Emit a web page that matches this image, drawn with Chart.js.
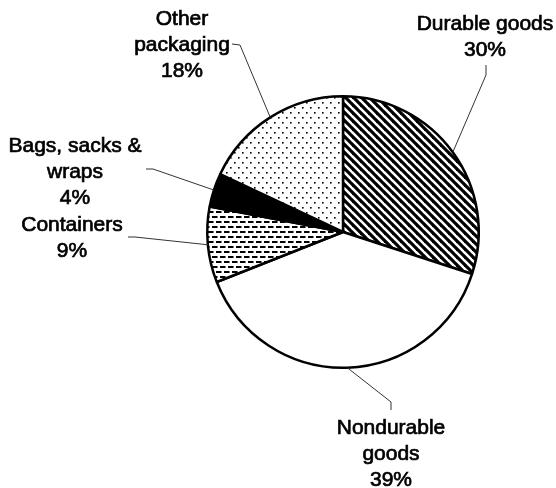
<!DOCTYPE html>
<html>
<head>
<meta charset="utf-8">
<script src="https://cdn.jsdelivr.net/npm/chart.js@4/dist/chart.umd.min.js"></script>
<style>
  html, body { margin: 0; padding: 0; background: #ffffff; }
  #wrap { width: 556px; height: 488px; }
</style>
</head>
<body>
<div id="wrap"><canvas id="c" width="556" height="488"></canvas></div>
<script>
// ---- data ----
const categories = ["Durable goods", "Nondurable goods", "Containers", "Bags, sacks & wraps", "Other packaging"];
const shares = [30, 39, 9, 4, 18];
const labelLines = [
  ["Durable goods", "30%"],
  ["Nondurable", "goods", "39%"],
  ["Containers", "9%"],
  ["Bags, sacks &", "wraps", "4%"],
  ["Other", "packaging", "18%"]
];

// ---- label layout (text anchor, first baseline, leader elbow and end) ----
const labelLayout = [
  { tx: 485, ty: 30,  elbow: [486, 75],  end: [486, 65] },
  { tx: 391, ty: 434, elbow: [391, 402], end: [391, 410] },
  { tx: 72,  ty: 231, elbow: [135, 237], end: [128, 237] },
  { tx: 75,  ty: 152, elbow: [153, 169], end: [146, 169] },
  { tx: 182, ty: 25,  elbow: [240, 45],  end: [232, 44] }
];
const LINE_H = 26;

// ---- patterns ----
function makeTile(w, h, draw) {
  const c = document.createElement('canvas');
  c.width = w; c.height = h;
  const g = c.getContext('2d');
  g.fillStyle = '#ffffff';
  g.fillRect(0, 0, w, h);
  draw(g, w, h);
  return document.getElementById('c').getContext('2d').createPattern(c, 'repeat');
}
const stripes = makeTile(8, 8, (g, w) => {
  g.strokeStyle = '#000';
  g.lineWidth = 3.2;
  for (let k = -1; k <= 1; k++) {
    g.beginPath();
    g.moveTo(k * w - w, -w);
    g.lineTo(k * w + 2 * w, 2 * w);
    g.stroke();
  }
});
const dashes = makeTile(8, 10, (g) => {
  g.fillStyle = '#000';
  g.fillRect(0, 1, 5.5, 2);
  g.fillRect(4, 6, 4, 2);
  g.fillRect(0, 6, 1.5, 2);
});
const dots = makeTile(8, 10, (g) => {
  g.fillStyle = '#000';
  g.fillRect(2, 2, 1.6, 1.6);
  g.fillRect(6, 7, 1.6, 1.6);
});
const fills = [stripes, '#ffffff', dashes, '#000000', dots];

// ---- labels plugin ----
const labelPlugin = {
  id: 'calloutLabels',
  afterDatasetsDraw(chart) {
    const ctx = chart.ctx;
    const meta = chart.getDatasetMeta(0);
    ctx.save();
    meta.data.forEach((arc, i) => {
      const p = arc.getProps(['x', 'y', 'startAngle', 'endAngle', 'outerRadius'], true);
      const mid = (p.startAngle + p.endAngle) / 2;
      const ax = p.x + Math.cos(mid) * p.outerRadius;
      const ay = p.y + Math.sin(mid) * p.outerRadius;
      const L = labelLayout[i];
      ctx.strokeStyle = '#333';
      ctx.lineWidth = 1;
      ctx.beginPath();
      ctx.moveTo(ax, ay);
      ctx.lineTo(L.elbow[0], L.elbow[1]);
      ctx.lineTo(L.end[0], L.end[1]);
      ctx.stroke();
      ctx.fillStyle = '#000';
      ctx.strokeStyle = '#000';
      ctx.lineWidth = 0.7;
      ctx.font = '21px "Liberation Sans", Arial, sans-serif';
      ctx.textAlign = 'center';
      ctx.textBaseline = 'alphabetic';
      labelLines[i].forEach((t, j) => {
        ctx.fillText(t, L.tx, L.ty + j * LINE_H);
        ctx.strokeText(t, L.tx, L.ty + j * LINE_H);
      });
    });
    ctx.restore();
  }
};

new Chart(document.getElementById('c'), {
  type: 'pie',
  data: {
    labels: categories,
    datasets: [{
      data: shares,
      backgroundColor: fills,
      borderColor: '#000000',
      borderWidth: 2.5
    }]
  },
  options: {
    responsive: false,
    animation: false,
    layout: { padding: { left: 206, right: 76, top: 95, bottom: 119 } },
    plugins: { legend: { display: false }, tooltip: { enabled: false } }
  },
  plugins: [labelPlugin]
});
</script>
</body>
</html>
